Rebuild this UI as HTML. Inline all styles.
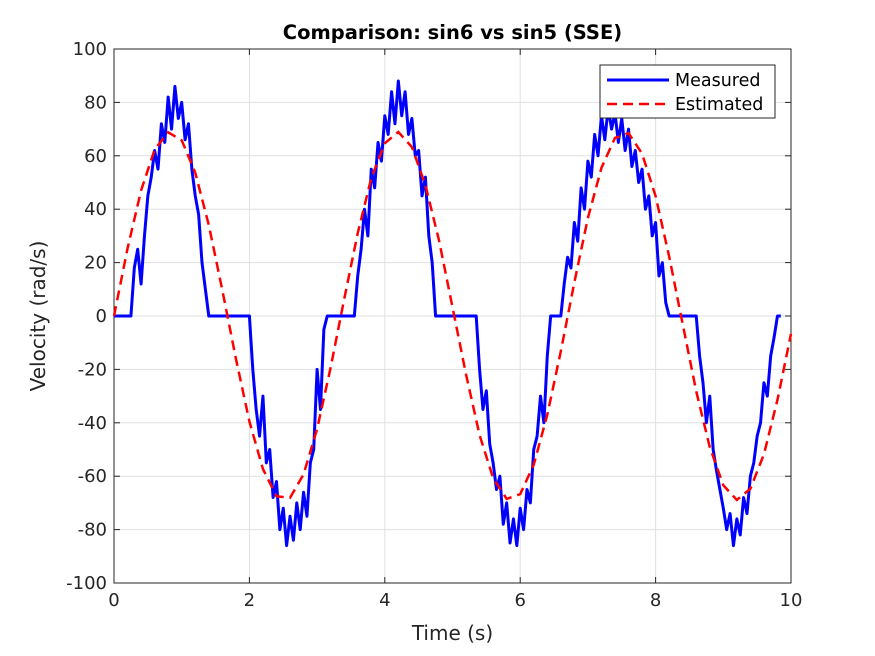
<!DOCTYPE html>
<html><head><meta charset="utf-8"><style>
body{margin:0;background:#fff;}
svg{display:block;font-family:"DejaVu Sans","Liberation Sans",sans-serif;}
</style></head><body>
<svg id="chart" width="875" height="656"></svg>
<script>
const xTicks=[0,2,4,6,8,10];
const yTicks=[-100,-80,-60,-40,-20,0,20,40,60,80,100];
const estT=[0,0.2,0.4,0.6,0.8,1,1.2,1.4,1.6,1.8,2,2.2,2.4,2.6,2.8,3,3.2,3.4,3.6,3.8,4,4.2,4.4,4.6,4.8,5,5.2,5.4,5.6,5.8,6,6.2,6.4,6.6,6.8,7,7.2,7.4,7.6,7.8,8,8.2,8.4,8.6,8.8,9,9.2,9.4,9.6,9.8,10];
const estV=[0,25.3,47.0,62.3,68.8,65.8,53.7,34.1,9.7,-15.9,-39.5,-57.3,-67.5,-68.1,-59.3,-42.3,-19.3,6.3,31.0,51.6,64.7,68.9,63.3,49.0,28.4,3.3,-21.9,-44.6,-60.7,-68.5,-66.7,-55.7,-37.0,-13.2,12.6,36.7,55.5,66.7,68.5,60.8,44.9,22.3,-3.0,-28.2,-49.1,-63.4,-68.9,-64.7,-51.8,-31.4,-6.7];
const measT=[0,0.25,0.3,0.35,0.4,0.45,0.5,0.55,0.6,0.65,0.7,0.75,0.8,0.85,0.9,0.95,1.0,1.05,1.1,1.15,1.2,1.25,1.3,1.35,1.4,2.0,2.05,2.1,2.15,2.2,2.25,2.3,2.35,2.4,2.45,2.5,2.55,2.6,2.65,2.7,2.75,2.8,2.85,2.9,2.95,3.0,3.05,3.1,3.15,3.55,3.6,3.65,3.7,3.75,3.8,3.85,3.9,3.95,4.0,4.05,4.1,4.15,4.2,4.25,4.3,4.35,4.4,4.45,4.5,4.55,4.6,4.65,4.7,4.75,5.35,5.4,5.45,5.5,5.55,5.6,5.65,5.7,5.75,5.8,5.85,5.9,5.95,6.0,6.05,6.1,6.15,6.2,6.25,6.3,6.35,6.4,6.45,6.6,6.65,6.7,6.75,6.8,6.85,6.9,6.95,7.0,7.05,7.1,7.15,7.2,7.25,7.3,7.35,7.4,7.45,7.5,7.55,7.6,7.65,7.7,7.75,7.8,7.85,7.9,7.95,8.0,8.05,8.1,8.15,8.2,8.6,8.65,8.7,8.75,8.8,8.85,8.9,8.95,9.0,9.05,9.1,9.15,9.2,9.25,9.3,9.35,9.4,9.45,9.5,9.55,9.6,9.65,9.7,9.75,9.8,9.85];
const measV=[0,0,18,25,12,30,45,52,62,55,72,65,82,70,86,74,80,66,72,55,45,38,20,10,0,0,-20,-35,-45,-30,-55,-50,-68,-62,-80,-72,-86,-75,-84,-70,-80,-66,-75,-55,-50,-20,-35,-5,0,0,15,25,40,30,55,48,65,58,75,68,84,72,88,75,84,68,74,60,62,45,52,30,20,0,0,-20,-35,-28,-48,-55,-65,-60,-78,-70,-85,-76,-86,-72,-80,-65,-70,-50,-45,-30,-40,-15,0,0,12,22,18,35,28,48,40,58,52,68,60,75,66,78,70,76,65,74,62,70,56,62,50,55,40,45,30,35,15,20,5,0,0,-15,-25,-40,-30,-50,-58,-65,-72,-80,-74,-86,-76,-82,-68,-74,-60,-55,-45,-40,-25,-30,-15,-8,0,0];

const L=114,R=791,T=49,B=583;
const sx=t=>L+(t-0)/(10-0)*(R-L);
const sy=v=>T+(100-v)/200*(B-T);
const svg=document.getElementById('chart');
const NS='http://www.w3.org/2000/svg';
function mk(tag,attrs,parent){const e=document.createElementNS(NS,tag);for(const k in attrs)e.setAttribute(k,attrs[k]);(parent||svg).appendChild(e);return e;}

const plotBg=mk('rect',{x:L,y:T,width:R-L,height:B-T,fill:'#fff'});



const grid=mk('g',{stroke:'#e0e0e0','stroke-width':1});


xTicks.forEach(t=>mk('line',{x1:sx(t),x2:sx(t),y1:T,y2:B},grid));
yTicks.forEach(v=>mk('line',{x1:L,x2:R,y1:sy(v),y2:sy(v)},grid));

const frame=mk('rect',{x:L,y:T,width:R-L,height:B-T,fill:'none',stroke:'#262626','stroke-width':1});



const xt=mk('g',{});


xTicks.forEach(t=>{
  mk('line',{x1:sx(t),x2:sx(t),y1:B,y2:B-6,stroke:'#262626'},xt);
  mk('line',{x1:sx(t),x2:sx(t),y1:T,y2:T+6,stroke:'#262626'},xt);
  const e=mk('text',{x:sx(t),y:B+23,'text-anchor':'middle','font-size':18,fill:'#262626'},xt);e.textContent=t;});
const yt=mk('g',{});


yTicks.forEach(v=>{
  mk('line',{x1:L,x2:L+6,y1:sy(v),y2:sy(v),stroke:'#262626'},yt);
  mk('line',{x1:R,x2:R-6,y1:sy(v),y2:sy(v),stroke:'#262626'},yt);
  const e=mk('text',{x:L-7,y:sy(v)+6,'text-anchor':'end','font-size':18,fill:'#262626'},yt);e.textContent=v;});

const meas=mk('polyline',{points:measT.map((t,i)=>sx(t)+','+sy(measV[i])).join(' '),fill:'none',stroke:'#0000ff','stroke-width':3,'stroke-linejoin':'round'});


const est=mk('polyline',{points:estT.map((t,i)=>sx(t)+','+sy(estV[i])).join(' '),fill:'none',stroke:'#ff0000','stroke-width':2.5,'stroke-dasharray':'10,6'});



const title=mk('text',{x:(L+R)/2,y:39,'text-anchor':'middle','font-size':19.5,'font-weight':'bold',fill:'#000'});
title.textContent='Comparison: sin6 vs sin5 (SSE)';


const xl=mk('text',{x:(L+R)/2,y:640,'text-anchor':'middle','font-size':20,fill:'#262626'});
xl.textContent='Time (s)';


const yl=mk('text',{x:0,y:0,'text-anchor':'middle','font-size':20,fill:'#262626',transform:'translate(45,316) rotate(-90)'});
yl.textContent='Velocity (rad/s)';



const lg=mk('g',{});


mk('rect',{x:600,y:65,width:175,height:53,fill:'#fff',stroke:'#262626','stroke-width':1},lg);
mk('line',{x1:607,x2:669,y1:80,y2:80,stroke:'#0000ff','stroke-width':3},lg);
mk('line',{x1:607,x2:669,y1:104,y2:104,stroke:'#ff0000','stroke-width':2.5,'stroke-dasharray':'10,6'},lg);
const l1=mk('text',{x:675,y:86,'font-size':17.5,fill:'#000'},lg);l1.textContent='Measured';


const l2=mk('text',{x:675,y:110,'font-size':17.5,fill:'#000'},lg);l2.textContent='Estimated';


</script>
</body></html>
